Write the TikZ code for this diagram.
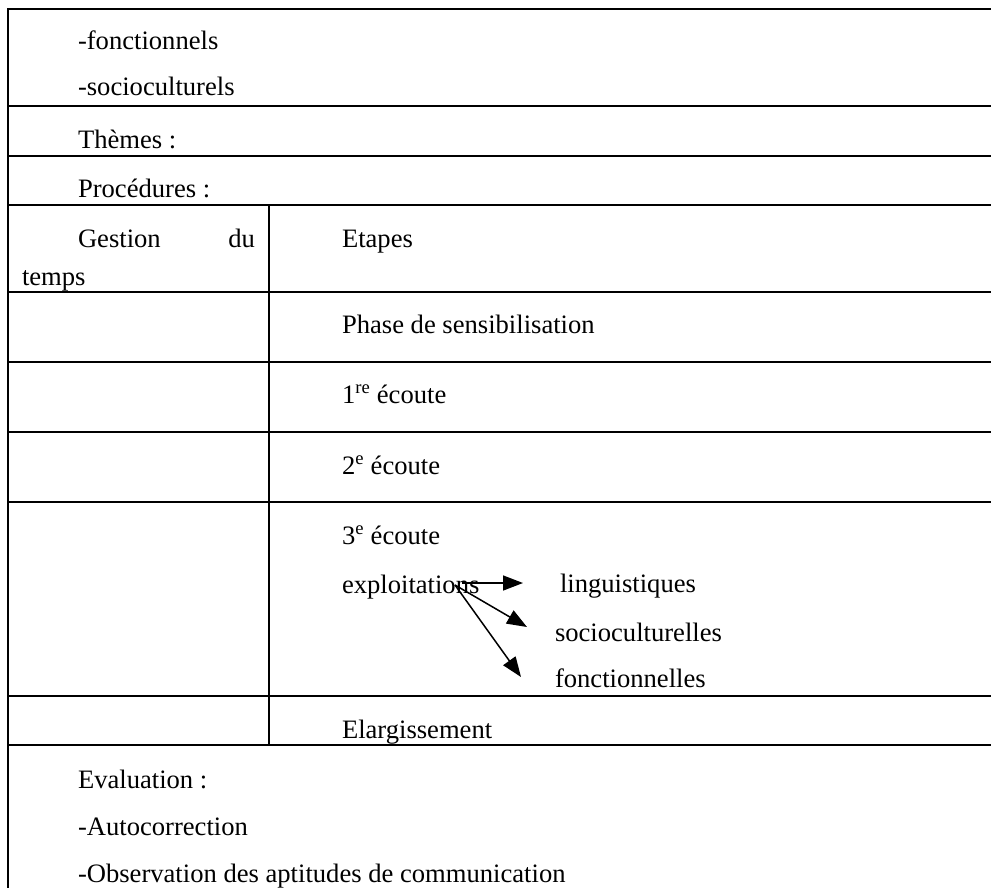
\documentclass[tikz,border=0pt]{standalone}
\usepackage{fontspec}
\setmainfont{Liberation Serif}
\usetikzlibrary{arrows.meta}
\tikzset{
  rule/.style={line width=2.4pt, line cap=rect},
  txt/.style={anchor=base west, inner sep=0pt, outer sep=0pt, font=\fontsize{26.6}{32}\selectfont},
  txtr/.style={anchor=base east, inner sep=0pt, outer sep=0pt, font=\fontsize{26.6}{32}\selectfont},
  arr/.style={line width=1.5pt, -{Triangle[length=20pt,width=15pt]}}
}
\begin{document}
\begin{tikzpicture}[x=1pt,y=-1pt]
\useasboundingbox (0,0) rectangle (991,887);
% table rules
\draw[rule] (8,9) -- (8,887);
\foreach \yy in {9,106,156,205,292,362,432,502,696,745}{
  \draw[rule] (8,\yy) -- (995,\yy);
}
\draw[rule] (269,205) -- (269,745);
% texts
\node[txt] (fonc) at (78,49) {-fonctionnels};
\node[txt] (socio) at (78,95) {-socioculturels};
\node[txt] (themes) at (78,148) {Thèmes :};
\node[txt] (proc) at (78,197) {Procédures :};
\node[txt] (gestion) at (78,247) {Gestion};
\node[txtr] (du) at (255,247) {du};
\node[txt] (temps) at (22,285) {temps};
\node[txt] (etapes) at (342,247) {Etapes};
\node[txt] (phase) at (342,333) {Phase de sensibilisation};
\node[txt] (e1) at (342,403) {1\textsuperscript{re} écoute};
\node[txt] (e2) at (342,474) {2\textsuperscript{e} écoute};
\node[txt] (e3) at (342,544) {3\textsuperscript{e} écoute};
\node[txt] (expl) at (342,593) {exploitations};
\node[txt] (ling) at (560,592) {linguistiques};
\node[txt] (socc) at (555,641) {socioculturelles};
\node[txt] (fonct) at (555,687) {fonctionnelles};
\node[txt] (elarg) at (342,738) {Elargissement};
\node[txt] (eval) at (78,788) {Evaluation :};
\node[txt] (auto) at (78,835) {-Autocorrection};
\node[txt] (obs) at (78,882) {-Observation des aptitudes de communication};
% arrows
\coordinate (s1) at (462,583);
\coordinate (s2) at (455,585);
\coordinate (t1) at (523,583);
\coordinate (t2) at (527,627);
\coordinate (t3) at (521,677);
\draw[arr] (s1) -- (t1);
\draw[arr] (s2) -- (t2);
\draw[arr] (s2) -- (t3);
\end{tikzpicture}
\end{document}
